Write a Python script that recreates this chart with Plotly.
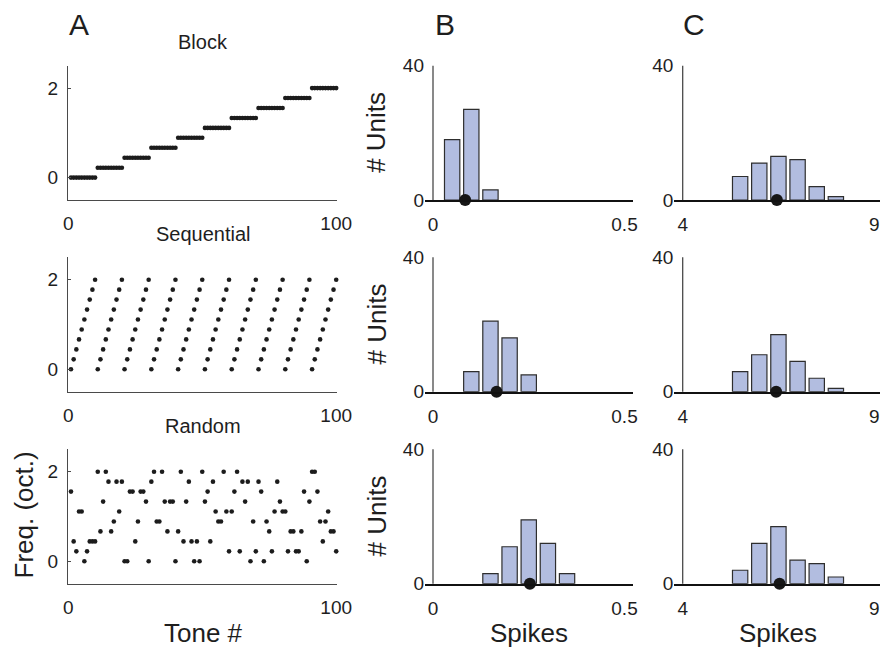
import plotly.graph_objects as go

# ---------------- data ----------------
tone_number = list(range(1, 101))
freq_levels_oct = [0.0, 0.222, 0.444, 0.667, 0.889, 1.111, 1.333, 1.556, 1.778, 2.0]

block_level_idx = [
    0, 0, 0, 0, 0, 0, 0, 0, 0, 0,
    1, 1, 1, 1, 1, 1, 1, 1, 1, 1,
    2, 2, 2, 2, 2, 2, 2, 2, 2, 2,
    3, 3, 3, 3, 3, 3, 3, 3, 3, 3,
    4, 4, 4, 4, 4, 4, 4, 4, 4, 4,
    5, 5, 5, 5, 5, 5, 5, 5, 5, 5,
    6, 6, 6, 6, 6, 6, 6, 6, 6, 6,
    7, 7, 7, 7, 7, 7, 7, 7, 7, 7,
    8, 8, 8, 8, 8, 8, 8, 8, 8, 8,
    9, 9, 9, 9, 9, 9, 9, 9, 9, 9,
]
sequential_level_idx = [
    0, 1, 2, 3, 4, 5, 6, 7, 8, 9,
    0, 1, 2, 3, 4, 5, 6, 7, 8, 9,
    0, 1, 2, 3, 4, 5, 6, 7, 8, 9,
    0, 1, 2, 3, 4, 5, 6, 7, 8, 9,
    0, 1, 2, 3, 4, 5, 6, 7, 8, 9,
    0, 1, 2, 3, 4, 5, 6, 7, 8, 9,
    0, 1, 2, 3, 4, 5, 6, 7, 8, 9,
    0, 1, 2, 3, 4, 5, 6, 7, 8, 9,
    0, 1, 2, 3, 4, 5, 6, 7, 8, 9,
    0, 1, 2, 3, 4, 5, 6, 7, 8, 9,
]
random_level_idx = [
    7, 2, 1, 5, 5, 0, 1, 2, 2, 2,
    9, 3, 6, 9, 8, 3, 4, 8, 5, 8,
    0, 0, 7, 7, 2, 4, 7, 7, 6, 0,
    8, 9, 4, 4, 9, 6, 3, 6, 6, 0,
    3, 9, 2, 6, 8, 2, 0, 2, 0, 9,
    6, 7, 2, 8, 5, 4, 4, 9, 5, 1,
    5, 7, 9, 1, 8, 6, 8, 0, 4, 1,
    8, 7, 0, 4, 3, 1, 5, 8, 6, 5,
    5, 1, 3, 3, 1, 1, 3, 7, 0, 6,
    9, 9, 7, 4, 2, 4, 5, 3, 3, 1,
]

# column B: spikes per tone (bin centers / unit counts / mean)
b_block_bins = [0.05, 0.10, 0.15]
b_block_units = [18, 27, 3]
b_block_mean = 0.084
b_seq_bins = [0.10, 0.15, 0.20, 0.25]
b_seq_units = [6, 21, 16, 5]
b_seq_mean = 0.166
b_rand_bins = [0.15, 0.20, 0.25, 0.30, 0.35]
b_rand_units = [3, 11, 19, 12, 3]
b_rand_mean = 0.253

# column C
c_bins = [5.5, 6.0, 6.5, 7.0, 7.5, 8.0]
c_block_units = [7, 11, 13, 12, 4, 1]
c_block_mean = 6.46
c_seq_units = [6, 11, 17, 9, 4, 1]
c_seq_mean = 6.44
c_rand_units = [4, 12, 17, 7, 6, 2]
c_rand_mean = 6.53

panel_titles = ["Block", "Sequential", "Random"]

# ---------------- layout helpers ----------------
W, H = 880, 649
FONT = "Liberation Sans, Arial, Helvetica, sans-serif"
TXT = "#1e1e1e"
AXC = "#4a4a4a"
BAR_FILL = "#b2bde0"
BAR_EDGE = "#2e2e2e"
DOT = "#161616"


def px(v):
    return v / W


def py(v):
    return 1 - v / H


rows_px = [(65.7, 200.0), (257.3, 391.7), (449.3, 583.7)]
col_a = (68.3, 337.0)
col_b = (425.0, 633.3)
col_c = (674.3, 880.0)

fig = go.Figure()
layout = dict(
    template="none",
    width=W, height=H, margin=dict(l=0, r=0, t=0, b=0, pad=0), autosize=False,
    paper_bgcolor="white", plot_bgcolor="white", showlegend=False,
    font=dict(family=FONT, color=TXT, size=19),
)

level_sets = [block_level_idx, sequential_level_idx, random_level_idx]
b_sets = [(b_block_bins, b_block_units, b_block_mean),
          (b_seq_bins, b_seq_units, b_seq_mean),
          (b_rand_bins, b_rand_units, b_rand_mean)]
c_sets = [(c_bins, c_block_units, c_block_mean),
          (c_bins, c_seq_units, c_seq_mean),
          (c_bins, c_rand_units, c_rand_mean)]

annotations = []
shapes = []
for r in range(3):
    top, bot = rows_px[r]
    ydom = [py(bot), py(top)]
    ia, ib, ic = 3 * r + 1, 3 * r + 2, 3 * r + 3

    # ---- column A ----
    freqs = [freq_levels_oct[k] for k in level_sets[r]]
    fig.add_trace(go.Scatter(
        x=tone_number, y=freqs, mode="markers",
        marker=dict(size=4.6, color="#1c1c1c", line=dict(width=0)),
        xaxis=f"x{ia}", yaxis=f"y{ia}", cliponaxis=False,
    ))
    layout[f"xaxis{ia}"] = dict(
        domain=[px(col_a[0]), px(col_a[1])], anchor=f"y{ia}", range=[0, 100.3],
        showline=True, linecolor=AXC, linewidth=1.3, ticks="inside", ticklen=3,
        tickcolor=AXC, tickvals=[0, 100], showgrid=False, zeroline=False,
        tickfont=dict(size=19, color=TXT), ticklabelstandoff=6, automargin=False,
    )
    layout[f"yaxis{ia}"] = dict(
        domain=ydom, anchor=f"x{ia}", range=[-0.5, 2.5],
        showline=True, linecolor=AXC, linewidth=1.3, ticks="inside", ticklen=3,
        tickcolor=AXC, tickvals=[0, 2], showgrid=False, zeroline=False,
        tickfont=dict(size=19, color=TXT), ticklabelstandoff=5, automargin=False,
    )

    # ---- column B ----
    bx, bn, bm = b_sets[r]
    fig.add_trace(go.Bar(
        x=bx, y=bn, width=0.04,
        marker=dict(color=BAR_FILL, line=dict(color=BAR_EDGE, width=1.2)),
        xaxis=f"x{ib}", yaxis=f"y{ib}",
    ))
    fig.add_trace(go.Scatter(
        x=[bm], y=[0], mode="markers", marker=dict(size=12, color=DOT),
        xaxis=f"x{ib}", yaxis=f"y{ib}", cliponaxis=False,
    ))
    layout[f"xaxis{ib}"] = dict(
        domain=[px(col_b[0]), px(col_b[1])], anchor=f"y{ib}", range=[-0.0209, 0.523],
        showline=True, linecolor="#111111", linewidth=2, ticks="", tickvals=[0, 0.5],
        ticktext=["0", "0.5"], showgrid=False, zeroline=False,
        tickfont=dict(size=19, color=TXT), ticklabelstandoff=6, automargin=False,
    )
    layout[f"yaxis{ib}"] = dict(
        domain=ydom, anchor=f"x{ib}", range=[0, 40], showline=False,
        ticks="", tickvals=[0, 40], showgrid=False, zeroline=False,
        tickfont=dict(size=19, color=TXT), ticklabelstandoff=0, automargin=False,
    )
    shapes.append(dict(
        type="line", xref=f"x{ib}", yref=f"y{ib} domain", x0=0, x1=0, y0=0, y1=1,
        line=dict(color=AXC, width=1.3), layer="below",
    ))

    # ---- column C ----
    cx, cn, cm = c_sets[r]
    fig.add_trace(go.Bar(
        x=cx, y=cn, width=0.4,
        marker=dict(color=BAR_FILL, line=dict(color=BAR_EDGE, width=1.2)),
        xaxis=f"x{ic}", yaxis=f"y{ic}",
    ))
    fig.add_trace(go.Scatter(
        x=[cm], y=[0], mode="markers", marker=dict(size=12, color=DOT),
        xaxis=f"x{ic}", yaxis=f"y{ic}", cliponaxis=False,
    ))
    layout[f"xaxis{ic}"] = dict(
        domain=[px(col_c[0]), px(col_c[1])], anchor=f"y{ic}", range=[3.781, 9.152],
        showline=True, linecolor="#111111", linewidth=2, ticks="", tickvals=[4, 9],
        showgrid=False, zeroline=False,
        tickfont=dict(size=19, color=TXT), ticklabelstandoff=6, automargin=False,
    )
    layout[f"yaxis{ic}"] = dict(
        domain=ydom, anchor=f"x{ic}", range=[0, 40], showline=False,
        ticks="", tickvals=[0, 40], showgrid=False, zeroline=False,
        tickfont=dict(size=19, color=TXT), ticklabelstandoff=0, automargin=False,
    )
    shapes.append(dict(
        type="line", xref=f"x{ic}", yref=f"y{ic} domain", x0=4, x1=4, y0=0, y1=1,
        line=dict(color=AXC, width=1.3), layer="below",
    ))

    # titles of column A panels
    title_mid = [42.2, 233.5, 426.3][r]
    annotations.append(dict(
        text=panel_titles[r], xref="paper", yref="paper",
        x=px(203), y=py(title_mid), xanchor="center", yanchor="middle",
        showarrow=False, font=dict(size=20, color=TXT, family=FONT),
    ))
    # "# Units" labels
    annotations.append(dict(
        text="# Units", xref="paper", yref="paper",
        x=px(376), y=py((top + bot) / 2), xanchor="center", yanchor="middle",
        textangle=-90, showarrow=False, font=dict(size=26, color=TXT, family=FONT),
    ))

for letter, xl in (("A", 67), ("B", 433), ("C", 681)):
    annotations.append(dict(
        text=letter, xref="paper", yref="paper", x=px(xl), y=py(24.5),
        xanchor="left", yanchor="middle", showarrow=False,
        font=dict(size=30, color=TXT, family=FONT),
    ))

annotations.append(dict(
    text="Tone #", xref="paper", yref="paper", x=px(203), y=py(632.5),
    xanchor="center", yanchor="middle", showarrow=False,
    font=dict(size=26, color=TXT, family=FONT),
))
for xc in (529, 777.5):
    annotations.append(dict(
        text="Spikes", xref="paper", yref="paper", x=px(xc), y=py(632.5),
        xanchor="center", yanchor="middle", showarrow=False,
        font=dict(size=26, color=TXT, family=FONT),
    ))
annotations.append(dict(
    text="Freq. (oct.)", xref="paper", yref="paper", x=px(23.5), y=py(515),
    xanchor="center", yanchor="middle", textangle=-90, showarrow=False,
    font=dict(size=26, color=TXT, family=FONT),
))

layout["annotations"] = annotations
layout["shapes"] = shapes
fig.update_layout(**layout)
fig.write_html(
    "out.html",
    config={"displayModeBar": False, "staticPlot": True},
    post_script="document.body.style.margin='0px';document.body.style.overflow='hidden';",
)
